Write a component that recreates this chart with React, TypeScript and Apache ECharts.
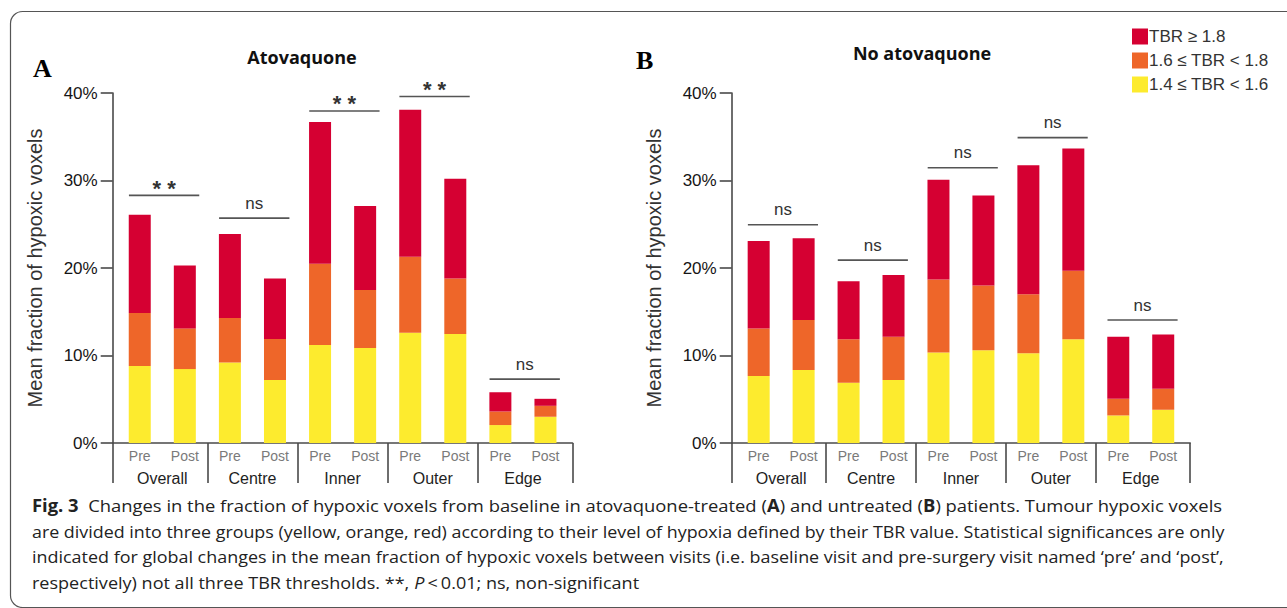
import React, { useEffect, useRef } from 'react';
import * as echarts from 'echarts';

// ---------- data ----------
const visits = ['Pre', 'Post'];
const regions = ['Overall', 'Centre', 'Inner', 'Outer', 'Edge'];
const tierNames = ['1.4 ≤ TBR < 1.6', '1.6 ≤ TBR < 1.8', 'TBR ≥ 1.8'];
const tierColors = ['#FDEB2E', '#EE6629', '#D50032'];
const yTickValues = [0, 10, 20, 30, 40];

// Panel A – Atovaquone (segment heights, % of voxels), order: Overall Pre, Overall Post, Centre Pre, ...
const atoYellow = [8.8, 8.45, 9.2, 7.2, 11.2, 10.85, 12.6, 12.45, 2.05, 3.0];
const atoOrange = [6.05, 4.65, 5.1, 4.7, 9.3, 6.65, 8.7, 6.35, 1.55, 1.25];
const atoRed = [11.25, 7.2, 9.6, 6.9, 16.2, 9.6, 16.8, 11.4, 2.2, 0.8];
const atoSigLevel = [28.3, 25.7, 37.95, 39.6, 7.3];
const atoSigLabel = ['* *', 'ns', '* *', '* *', 'ns'];

// Panel B – No atovaquone
const noYellow = [7.65, 8.35, 6.9, 7.2, 10.35, 10.6, 10.25, 11.85, 3.15, 3.8];
const noOrange = [5.45, 5.7, 4.95, 4.95, 8.35, 7.4, 6.75, 7.85, 1.9, 2.4];
const noRed = [10.0, 9.35, 6.65, 7.05, 11.4, 10.3, 14.75, 13.95, 7.1, 6.2];
const noSigLevel = [24.95, 20.9, 31.45, 34.9, 14.05];
const noSigLabel = ['ns', 'ns', 'ns', 'ns', 'ns'];

const captionLines = [
  '{b|Fig. 3}  Changes in the fraction of hypoxic voxels from baseline in atovaquone-treated ({b|A}) and untreated ({b|B}) patients. Tumour hypoxic voxels',
  'are divided into three groups (yellow, orange, red) according to their level of hypoxia defined by their TBR value. Statistical significances are only',
  'indicated for global changes in the mean fraction of hypoxic voxels between visits (i.e. baseline visit and pre-surgery visit named \u2018pre\u2019 and \u2018post\u2019,',
  'respectively) not all three TBR thresholds. **, {i|P}\u2009<\u20090.01; ns, non-significant',
];

// ---------- layout / style ----------
const SANS = "'Liberation Sans', Arial, sans-serif";
const CAP = "'Open Sans', sans-serif";
const AXIS_COLOR = '#4a4a4a';
const panels = [
  { left: 112.7, width: 459.8, title: 'Atovaquone', titleX: 302, titleY: 57, letter: 'A', letterX: 33, letterY: 68, stack: [atoYellow, atoOrange, atoRed], sig: atoSigLevel, sigLabel: atoSigLabel },
  { left: 731.7, width: 458.5, title: 'No atovaquone', titleX: 922, titleY: 53, letter: 'B', letterX: 636, letterY: 60, stack: [noYellow, noOrange, noRed], sig: noSigLevel, sigLabel: noSigLabel },
];
const GRID_TOP = 93;
const GRID_H = 350;
const X_MIN = -0.6;
const X_MAX = 9.6;

function measureParts(line: string, size: number) {
  const c = document.createElement('canvas').getContext('2d')!;
  let w = 0;
  const re = /\{(b|i)\|([^}]*)\}|([^{]+)/g;
  let m: RegExpExecArray | null;
  while ((m = re.exec(line))) {
    if (m[1] === 'b') c.font = `bold ${size}px ${CAP}`;
    else if (m[1] === 'i') c.font = `italic ${size}px ${CAP}`;
    else c.font = `${size}px ${CAP}`;
    w += c.measureText(m[2] ?? m[3]).width;
  }
  return w;
}

export default function App() {
  const ref = useRef<HTMLDivElement>(null);
  useEffect(() => {
    if (!ref.current) return;
    const chart = echarts.init(ref.current, null, { renderer: 'svg' });
    const categories = regions.flatMap((r) => visits.map((v) => `${r}|${v}`));

    const grid: any[] = [];
    const xAxis: any[] = [];
    const yAxis: any[] = [];
    const series: any[] = [];
    const graphic: any[] = [];

    panels.forEach((p, pi) => {
      const band = p.width / (X_MAX - X_MIN);
      grid.push({ left: p.left, top: GRID_TOP, width: p.width, height: GRID_H });
      grid.push({ left: p.left + band * (-0.5 - X_MIN), top: GRID_TOP, width: band * 10, height: GRID_H });

      xAxis.push({
        type: 'value', gridIndex: 2 * pi, min: X_MIN, max: X_MAX, position: 'bottom',
        splitLine: { show: false },
        axisLine: { show: true, onZero: false, lineStyle: { color: AXIS_COLOR, width: 1.6 } },
        axisTick: { show: true, customValues: [X_MIN, 1.5, 3.5, 5.5, 7.5, X_MAX], length: 40, inside: false, lineStyle: { color: AXIS_COLOR, width: 1.6 } },
        axisLabel: {
          show: true, customValues: [0.5, 2.5, 4.5, 6.5, 8.5], margin: 27,
          formatter: (v: number) => regions[Math.floor(v / 2)],
          color: '#1e1e1e', fontSize: 16, fontFamily: SANS,
        },
      });
      xAxis.push({
        type: 'category', gridIndex: 2 * pi + 1, data: categories, boundaryGap: true,
        axisLine: { show: false }, axisTick: { show: false }, splitLine: { show: false },
        axisLabel: { formatter: (v: string) => v.split('|')[1], color: '#7a7a7a', fontSize: 14, margin: 6, fontFamily: SANS, interval: 0 },
      });
      yAxis.push({
        type: 'value', gridIndex: 2 * pi, min: yTickValues[0], max: yTickValues[yTickValues.length - 1], interval: 10,
        splitLine: { show: false },
        axisLine: { show: true, onZero: false, lineStyle: { color: AXIS_COLOR, width: 1.6 } },
        axisTick: { show: true, length: 12, lineStyle: { color: AXIS_COLOR, width: 1.6 } },
        axisLabel: { formatter: '{value}%', color: '#151515', fontSize: 17, margin: 15, fontFamily: SANS },
        name: 'Mean fraction of hypoxic voxels', nameLocation: 'middle', nameGap: 68, nameRotate: 90,
        nameTextStyle: { fontSize: 20, color: '#333', fontFamily: SANS },
      });
      yAxis.push({ type: 'value', gridIndex: 2 * pi + 1, min: 0, max: 40, show: false });

      p.stack.forEach((vals, ti) => {
        series.push({
          type: 'bar', name: tierNames[ti], xAxisIndex: 2 * pi + 1, yAxisIndex: 2 * pi + 1,
          stack: 'panel' + pi, barWidth: 22, data: vals,
          itemStyle: { color: tierColors[ti] },
        });
      });

      series.push({
        type: 'custom', xAxisIndex: 2 * pi, yAxisIndex: 2 * pi, clip: false,
        data: p.sig.map((y, g) => [2 * g, y]),
        renderItem: (params: any, api: any) => {
          const x = api.value(0);
          const y = api.value(1);
          const p1 = api.coord([x - 0.24, y]);
          const p2 = api.coord([x + 1.32, y]);
          const label = p.sigLabel[params.dataIndex];
          const star = label.indexOf('*') >= 0;
          return {
            type: 'group',
            children: [
              { type: 'line', shape: { x1: p1[0], y1: p1[1], x2: p2[0], y2: p2[1] }, style: { stroke: '#555', lineWidth: 1.6 } },
              {
                type: 'text', x: (p1[0] + p2[0]) / 2, y: p1[1] - (star ? 7 : 15),
                style: {
                  text: label, textAlign: 'center', align: 'center', textVerticalAlign: 'middle', verticalAlign: 'middle',
                  fontSize: star ? 22 : 17, fontWeight: star ? 'bold' : 'normal', fontFamily: SANS, fill: '#333',
                },
              },
            ],
          };
        },
      });

      graphic.push({
        type: 'text', x: p.titleX, y: p.titleY,
        style: { text: p.title, textAlign: 'center', align: 'center', textVerticalAlign: 'middle', verticalAlign: 'middle', fontSize: 18, fontWeight: 'bold', fontFamily: CAP, fill: '#111' },
      });
      graphic.push({
        type: 'text', x: p.letterX, y: p.letterY,
        style: { text: p.letter, textAlign: 'left', align: 'left', textVerticalAlign: 'middle', verticalAlign: 'middle', fontSize: 26, fontWeight: 'bold', fontFamily: "'Liberation Serif', 'Times New Roman', serif", fill: '#000' },
      });
    });

    // caption
    const capSize = 17;
    const targets = [1190, 1193, 1192];
    const scales = targets.map((t, i) => t / measureParts(captionLines[i], capSize));
    const meanScale = scales.reduce((a, b) => a + b, 0) / scales.length;
    const capYs = [505, 531, 556, 582];
    captionLines.forEach((line, i) => {
      graphic.push({
        type: 'text', x: 32, y: capYs[i], scaleX: i < 3 ? scales[i] : meanScale,
        style: {
          text: line, textAlign: 'left', align: 'left', textVerticalAlign: 'middle', verticalAlign: 'middle',
          fontSize: capSize, fontFamily: CAP, fill: '#222',
          rich: {
            b: { fontWeight: 'bold', fontSize: capSize, fontFamily: CAP, fill: '#222', color: '#222' },
            i: { fontStyle: 'italic', fontSize: capSize, fontFamily: CAP, fill: '#222', color: '#222' },
          },
        },
      });
    });

    // frame
    graphic.push({
      type: 'rect', z: -10, shape: { x: 10.5, y: 11.5, width: 1300, height: 596, r: 12 },
      style: { fill: 'none', stroke: '#555', lineWidth: 1.2 },
    });

    chart.setOption({
      animation: false,
      backgroundColor: '#fff',
      textStyle: { fontFamily: SANS },
      grid, xAxis, yAxis, series, graphic,
      legend: {
        data: [tierNames[2], tierNames[1], tierNames[0]],
        orient: 'vertical', left: 1132, top: 28, itemWidth: 16, itemHeight: 16, itemGap: 7,
        icon: 'rect', selectedMode: false, padding: 0,
        textStyle: { fontSize: 17, color: '#333', fontFamily: SANS, padding: [0, 0, 0, -4] },
      },
    });
    return () => chart.dispose();
  }, []);
  return <div ref={ref} style={{ position: 'absolute', left: 0, top: 0, width: 1287, height: 608, background: '#fff' }} />;
}
